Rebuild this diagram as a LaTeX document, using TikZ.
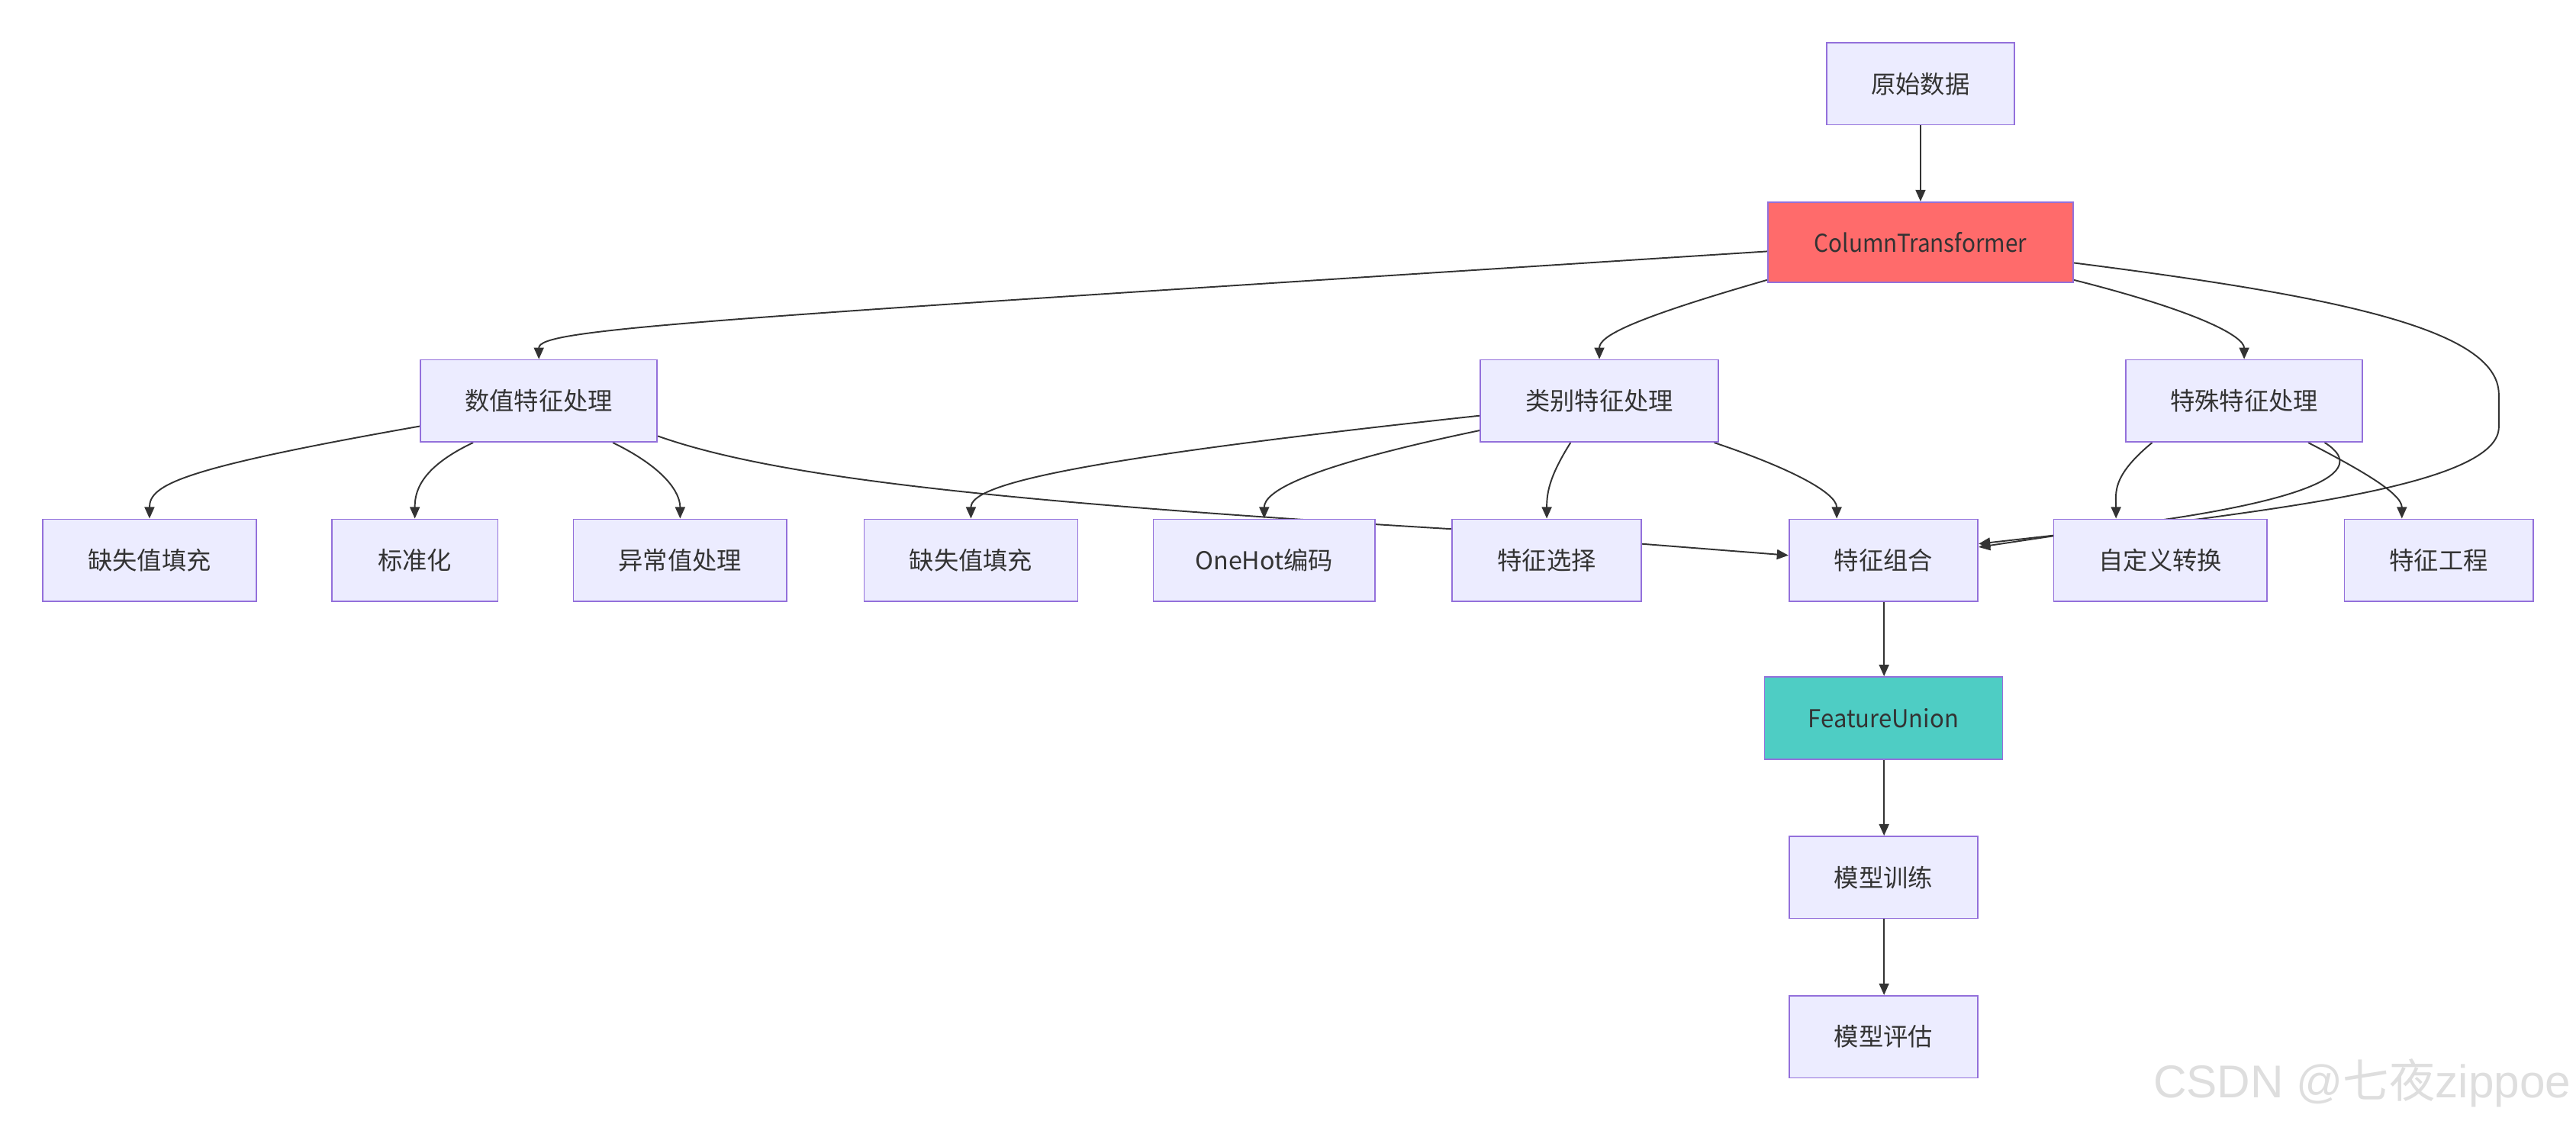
\documentclass[tikz,border=0pt]{standalone}
\usepackage{fontspec}
\usepackage{graphicx}
\setmainfont{Noto Sans CJK SC}
\newfontfamily\wmlatin{Liberation Sans}
\usetikzlibrary{arrows.meta,backgrounds,calc}
\definecolor{nodefill}{HTML}{ECECFF}
\definecolor{nodeline}{HTML}{9370DB}
\definecolor{txt}{HTML}{333333}
\definecolor{ctfill}{HTML}{FF6B6B}
\definecolor{fufill}{HTML}{4ECDC4}
\definecolor{wm}{HTML}{DEDEDE}
\tikzset{
  box/.style={draw=nodeline,line width=0.8pt,fill=nodefill,text=txt,minimum height=50pt,inner sep=0pt,font=\fontsize{15}{18}\selectfont},
  edge/.style={draw=txt,line width=0.9pt,-{Triangle[length=7pt,width=6pt]}},
}
\begin{document}
\begin{tikzpicture}[x=1pt,y=1pt]
\useasboundingbox (0,0) rectangle (1568,-682);
% nodes
\node[box,minimum width=114pt] (raw) at (1169,-51) {原始数据};
\node[box,minimum width=186pt,minimum height=49pt,fill=ctfill] (ct) at (1169,-147.5) {\scalebox{0.92}[1]{ColumnTransformer}};
\node[box,minimum width=144pt] (num) at (328,-244) {数值特征处理};
\node[box,minimum width=145pt] (cat) at (973.5,-244) {类别特征处理};
\node[box,minimum width=144pt] (spe) at (1366,-244) {特殊特征处理};
\node[box,minimum width=130pt] (mA) at (91,-341) {缺失值填充};
\node[box,minimum width=101pt] (std) at (252.5,-341) {标准化};
\node[box,minimum width=130pt] (outl) at (414,-341) {异常值处理};
\node[box,minimum width=130pt] (mB) at (591,-341) {缺失值填充};
\node[box,minimum width=135pt] (oh) at (769.5,-341) {OneHot编码};
\node[box,minimum width=115pt] (sel) at (941.5,-341) {特征选择};
\node[box,minimum width=115pt] (comb) at (1146.5,-341) {特征组合};
\node[box,minimum width=130pt] (cust) at (1315,-341) {自定义转换};
\node[box,minimum width=115pt] (eng) at (1484.5,-341) {特征工程};
\node[box,minimum width=145pt,fill=fufill] (fu) at (1146.5,-437) {\scalebox{0.96}[1]{FeatureUnion}};
\node[box,minimum width=115pt] (train) at (1146.5,-534) {模型训练};
\node[box,minimum width=115pt] (evalm) at (1146.5,-631) {模型评估};
\node[anchor=base east,text=wm,inner sep=0pt,font=\fontsize{28}{32}\selectfont] (wmk) at (1565,-668) {{\wmlatin CSDN @}七夜{\wmlatin zippoe}};
% edges
\begin{scope}[on background layer]
\draw[edge] (raw.south) -- (ct.north);
\draw[edge] ([yshift=-5.5pt]ct.west) .. controls (420,-195) and (328,-200) .. (num.north);
\draw[edge] ([yshift=2pt]ct.south west) .. controls (990,-195) and (973.5,-205) .. (cat.north);
\draw[edge] ([yshift=2pt]ct.south east) .. controls (1340,-190) and (1366,-205) .. (spe.north);
\draw[edge] ([yshift=-12.5pt]ct.east) .. controls (1420,-180) and (1521,-200) .. (1521,-240) -- (1521,-260) .. controls (1521,-290) and (1420,-305) .. (1338,-316) -- ([yshift=10pt]comb.east);
\draw[edge] ([xshift=49pt]spe.south) .. controls (1445,-288) and (1400,-305) .. (1305,-318) -- ([yshift=8pt]comb.east);
\draw[edge] ([xshift=-56pt]spe.south) .. controls (1285,-290) and (1288,-300) .. ([xshift=-27pt]cust.north);
\draw[edge] ([xshift=39pt]spe.south) .. controls (1435,-285) and (1462,-300) .. ([xshift=-22.5pt]eng.north);
\draw[edge] ([yshift=10pt]num.south west) .. controls (110,-285) and (91,-295) .. (mA.north);
\draw[edge] ([xshift=-40pt]num.south) .. controls (255,-285) and (252.5,-300) .. (std.north);
\draw[edge] ([xshift=45pt]num.south) .. controls (405,-285) and (414,-300) .. (outl.north);
\draw[edge] ([yshift=4pt]num.south east) .. controls (470,-290) and (600,-305) .. (884,-322) -- ([yshift=3pt]comb.west);
\draw[edge] ([yshift=-9pt]cat.west) .. controls (650,-280) and (591,-295) .. (mB.north);
\draw[edge] ([yshift=-18pt]cat.west) .. controls (790,-285) and (769.5,-300) .. (oh.north);
\draw[edge] ([xshift=-17.5pt]cat.south) .. controls (943,-290) and (941.5,-300) .. (sel.north);
\draw[edge] ([xshift=-3pt]cat.south east) .. controls (1090,-285) and (1118,-300) .. ([xshift=-28.5pt]comb.north);
\draw[edge] ([xshift=0.3pt]comb.south) -- ([xshift=0.3pt]fu.north);
\draw[edge] ([xshift=0.3pt]fu.south) -- ([xshift=0.3pt]train.north);
\draw[edge] ([xshift=0.3pt]train.south) -- ([xshift=0.3pt]evalm.north);
\end{scope}
\end{tikzpicture}
\end{document}
